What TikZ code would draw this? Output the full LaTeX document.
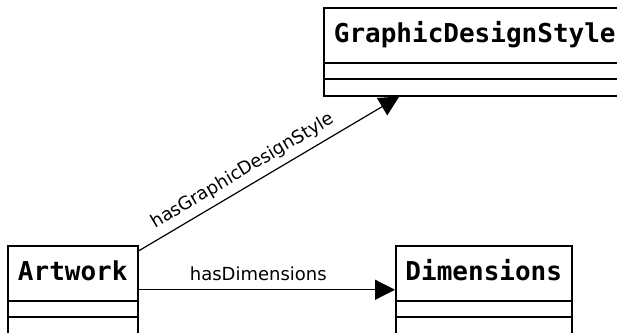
\documentclass[tikz,border=0pt]{standalone}
\usepackage{fontspec}
\newfontfamily\monofam{DejaVu Sans Mono}
\newfontfamily\labfam{DejaVu Sans}
\usetikzlibrary{arrows.meta}
\begin{document}
\begin{tikzpicture}[x=1pt,y=-1pt,
  classbox/.style={draw, line width=1.5pt, minimum width=#1, minimum height=88pt, inner sep=0pt, anchor=north west},
  classtitle/.style={font={\monofam\bfseries\fontsize{26}{30}\selectfont}, anchor=base, inner sep=0pt},
  compline/.style={line width=1.5pt},
  assoc/.style={line width=1.2pt, -{Triangle[length=20pt,width=20pt]}},
  lbl/.style={font={\labfam\fontsize{18}{22}\selectfont}, sloped, inner sep=0pt, text depth=0pt}
]
\fill[white] (0,0) rectangle (617,332);
\useasboundingbox (0,0) rectangle (617,332);

\node[classbox=130pt] (art) at (7,245) {};
\node[classbox=176pt] (dim) at (395,245) {};
\node[classbox=302pt] (gds) at (323,7) {};

\foreach \n in {art,dim,gds}{
  \draw[compline] ([yshift=-56pt]\n.north west) -- ([yshift=-56pt]\n.north east);
  \draw[compline] ([yshift=-72pt]\n.north west) -- ([yshift=-72pt]\n.north east);
}

\node[classtitle] (artt) at ([yshift=-35.5pt]art.north) {Artwork};
\node[classtitle] (dimt) at ([yshift=-35.5pt]dim.north) {Dimensions};
\node[classtitle] (gdst) at ([yshift=-35.5pt]gds.north) {GraphicDesignStyle};

\draw[assoc] (art) -- (dim) node[lbl, above=8.5pt, pos=0.467] {hasDimensions};
\draw[assoc] (art) -- (gds) node[lbl, above=10pt, pos=0.43] {hasGraphicDesignStyle};
\end{tikzpicture}
\end{document}
